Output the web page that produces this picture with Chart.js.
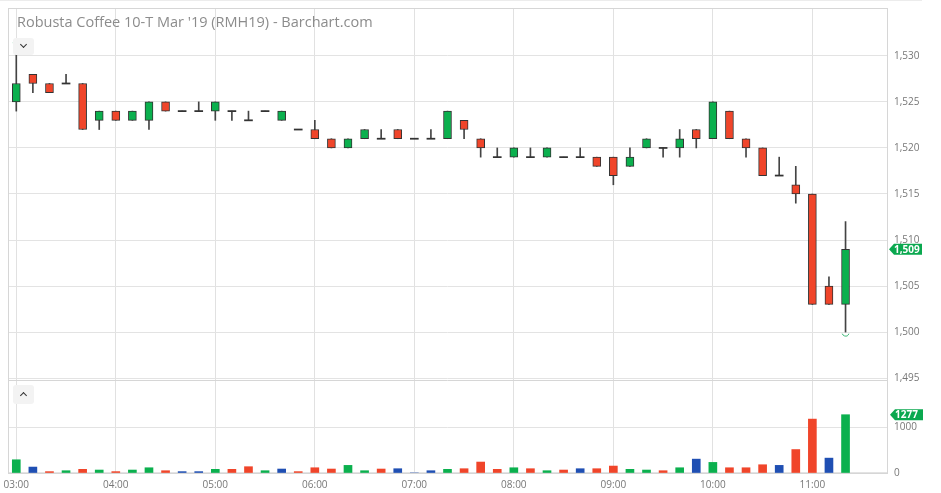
<!DOCTYPE html>
<html><head><meta charset="utf-8">
<script src="https://cdn.jsdelivr.net/npm/chart.js@4.4.1/dist/chart.umd.min.js"></script>
<style>
html,body{margin:0;padding:0;background:#fff;}
#wrap{position:relative;width:941px;height:493px;overflow:hidden;}
#topline{position:absolute;left:0;top:0;width:922px;height:1px;background:#ececec;}
#title{position:absolute;left:17px;top:12px;font:14.5px "Open Sans",sans-serif;color:#8c8c8c;white-space:nowrap;}
.btn{position:absolute;background:#f3f3f3;border-radius:3px;}
.chev{position:absolute;width:4px;height:4px;border-right:1.6px solid #333;border-bottom:1.6px solid #333;}
canvas{position:absolute;left:0;top:0;}
</style></head>
<body><div id="wrap">
<canvas id="c" width="941" height="493"></canvas>
<div id="topline"></div>
<div id="title">Robusta Coffee 10-T Mar '19 (RMH19) - Barchart.com</div>
<div class="btn" style="left:13px;top:38px;width:21px;height:17px;"><div class="chev" style="left:8px;top:4px;transform:rotate(45deg)"></div></div>
<div class="btn" style="left:13px;top:385px;width:21px;height:19px;"><div class="chev" style="left:8px;top:8px;transform:rotate(-135deg)"></div></div>
</div>
<script>
// ---- data ----
const timeLabels = ["03:00","03:10","03:20","03:30","03:40","03:50",
"04:00","04:10","04:20","04:30","04:40","04:50",
"05:00","05:10","05:20","05:30","05:40","05:50",
"06:00","06:10","06:20","06:30","06:40","06:50",
"07:00","07:10","07:20","07:30","07:40","07:50",
"08:00","08:10","08:20","08:30","08:40","08:50",
"09:00","09:10","09:20","09:30","09:40","09:50",
"10:00","10:10","10:20","10:30","10:40","10:50",
"11:00","11:10","11:20","11:30","11:40"];
const openP  = [1525,1528,1527,1527,1527,1523,1524,1523,1523,1525,1524,1524,1524,1524,1523,1524,1523,1522,1522,1521,1520,1521,1521,1522,1521,1521,1521,1523,1521,1519,1519,1519,1519,1519,1519,1519,1519,1518,1520,1520,1520,1522,1521,1524,1521,1520,1517,1516,1515,1505,1503];
const highP  = [1531,1528,1527,1528,1527,1524,1524,1524,1525,1525,1524,1525,1525,1524,1524,1524,1524,1522,1523,1521,1521,1522,1522,1522,1521,1522,1524,1523,1521,1520,1520,1520,1520,1519,1520,1519,1519,1520,1521,1520,1522,1522,1525,1524,1521,1520,1519,1518,1515,1506,1512];
const lowP   = [1524,1526,1526,1527,1522,1522,1523,1523,1522,1524,1524,1524,1523,1523,1523,1524,1523,1522,1521,1520,1520,1521,1521,1521,1521,1521,1521,1521,1519,1519,1519,1519,1519,1519,1519,1518,1516,1518,1520,1519,1519,1520,1521,1521,1519,1517,1517,1514,1503,1503,1500];
const closeP = [1527,1527,1526,1527,1522,1524,1523,1524,1525,1524,1524,1524,1525,1524,1523,1524,1524,1522,1521,1520,1521,1522,1521,1521,1521,1521,1524,1522,1520,1519,1520,1519,1520,1519,1519,1518,1517,1519,1521,1520,1521,1521,1525,1521,1520,1517,1517,1515,1503,1503,1509];
const volume = [290,130,30,50,80,65,30,65,115,50,30,30,80,80,138,50,87,30,115,87,167,50,87,94,0,50,80,94,240,80,115,94,50,65,94,94,152,80,65,50,115,304,232,115,115,181,167,514,1181,326,1277];
const priceTicks = [1495,1500,1505,1510,1515,1520,1525,1530];
const volumeTicks = [0,1000];

// ---- styles ----
const GREEN = '#0bb04e', RED = '#f0452a', BLUE = '#1f4fb3', EDGE = '#333';
const n = closeP.length;
const bodyData = [], bodyColors = [], dojiData = [], wickData = [], volColors = [];
for (let i = 0; i < n; i++) {
  wickData.push([lowP[i], highP[i]]);
  if (openP[i] === closeP[i]) { bodyData.push(null); dojiData.push([closeP[i]-0.06, closeP[i]+0.06]); }
  else { bodyData.push([openP[i], closeP[i]]); dojiData.push(null); }
  bodyColors.push(closeP[i] > openP[i] ? GREEN : RED);
  const ref = i === 0 ? openP[0] : closeP[i-1];
  volColors.push(closeP[i] > ref ? GREEN : (closeP[i] < ref ? RED : BLUE));
}
const fmt = v => v.toLocaleString('en-US');
const isHour = lbl => lbl && lbl.endsWith(':00');

function drawTag(ctx, x, yc, text) {
  ctx.save();
  ctx.fillStyle = '#0aa84f';
  ctx.beginPath();
  ctx.moveTo(x, yc); ctx.lineTo(x+5, yc-5.5); ctx.lineTo(x+33, yc-5.5);
  ctx.lineTo(x+33, yc+5.5); ctx.lineTo(x+5, yc+5.5); ctx.closePath(); ctx.fill();
  ctx.fillStyle = '#fff'; ctx.font = 'bold 10px "Open Sans"';
  ctx.textBaseline = 'middle'; ctx.textAlign = 'left';
  ctx.fillText(text, x+5, yc+0.5);
  ctx.restore();
}

const framePlugin = {
  id: 'frame',
  beforeDatasetsDraw(chart) {
    const {ctx, chartArea: a} = chart;
    const yv = chart.scales.yv;
    ctx.save();
    ctx.strokeStyle = '#d6d6d6'; ctx.lineWidth = 1;
    ctx.strokeRect(Math.round(a.left)+0.5, Math.round(a.top)+0.5, Math.round(a.right-a.left), Math.round(a.bottom-a.top));
    ctx.beginPath(); ctx.moveTo(a.left, Math.round(yv.top)+2.5); ctx.lineTo(a.right, Math.round(yv.top)+2.5); ctx.stroke();
    ctx.restore();
  },
  afterDraw(chart) {
    const {ctx} = chart;
    const x = chart.scales.x, y = chart.scales.y, yv = chart.scales.yv;
    let hi = 0, lo = 0;
    for (let i = 1; i < n; i++) { if (highP[i] > highP[hi]) hi = i; if (lowP[i] < lowP[lo]) lo = i; }
    ctx.save();
    ctx.strokeStyle = 'rgba(20,170,90,0.8)'; ctx.lineWidth = 1;
    ctx.beginPath(); ctx.arc(x.getPixelForValue(lo), y.getPixelForValue(lowP[lo]) + 0.5, 3.5, 0.1*Math.PI, 0.9*Math.PI); ctx.stroke();
    ctx.strokeStyle = 'rgba(20,170,90,0.45)';
    ctx.beginPath(); ctx.arc(x.getPixelForValue(hi), y.getPixelForValue(highP[hi]) - 2.5, 3.5, 1.1*Math.PI, 1.9*Math.PI); ctx.stroke();
    ctx.restore();
    drawTag(ctx, 889, y.getPixelForValue(closeP[n-1]), fmt(closeP[n-1]));
    drawTag(ctx, 890, yv.getPixelForValue(volume[n-1]), String(volume[n-1]));
  }
};

const tickFont = {family: '"Open Sans"', size: 10};
const noPad = s => { s.paddingTop = 0; s.paddingBottom = 0; s.paddingLeft = 0; s.paddingRight = 0; };
new Chart(document.getElementById('c'), {
  type: 'bar',
  data: {
    labels: timeLabels,
    datasets: [
      {data: bodyData, backgroundColor: bodyColors, borderColor: EDGE, borderWidth: 1, borderSkipped: false, barThickness: 8, grouped: false, yAxisID: 'y'},
      {data: dojiData, backgroundColor: EDGE, borderWidth: 0, barThickness: 8, grouped: false, yAxisID: 'y'},
      {data: wickData, backgroundColor: '#444', borderWidth: 0, barThickness: 1, grouped: false, yAxisID: 'y'},
      {data: volume, backgroundColor: volColors, borderWidth: 0, barThickness: 8, grouped: false, yAxisID: 'yv'}
    ]
  },
  options: {
    responsive: false, animation: false, events: [],
    layout: {padding: {top: 8, left: 8, right: 0, bottom: 0}},
    plugins: {legend: {display: false}, tooltip: {enabled: false}},
    scales: {
      x: {
        offset: true,
        grid: {offset: false, drawTicks: false, color: c => (c.tick && isHour(timeLabels[c.index])) ? '#e1e1e1' : 'rgba(0,0,0,0)'},
        border: {display: true, color: '#d6d6d6'},
        ticks: {autoSkip: false, maxRotation: 0, padding: 6, color: '#777', font: tickFont,
          callback: (v, i) => isHour(timeLabels[i]) ? timeLabels[i] : ''},
        afterFit: s => { s.height = 20; noPad(s); }
      },
      y: {
        position: 'right', stack: 'panes', stackWeight: 3.9, min: 1495, max: 1535.2,
        grid: {drawTicks: false, color: '#e3e3e3'},
        border: {display: true, color: '#d0d0d0'},
        ticks: {padding: 7, color: '#777', font: tickFont, callback: v => fmt(v)},
        afterBuildTicks: s => { s.ticks = priceTicks.map(v => ({value: v})); },
        afterFit: s => { s.width = 54; noPad(s); }
      },
      yv: {
        position: 'right', stack: 'panes', stackWeight: 1, min: 0, max: 2079,
        grid: {drawTicks: false, color: '#e3e3e3'},
        border: {display: true, color: '#d0d0d0'},
        ticks: {padding: 7, color: '#777', font: tickFont, callback: v => String(v)},
        afterBuildTicks: s => { s.ticks = volumeTicks.map(v => ({value: v})); },
        afterFit: s => { s.width = 54; noPad(s); }
      }
    }
  },
  plugins: [framePlugin]
});
</script>
</body></html>
